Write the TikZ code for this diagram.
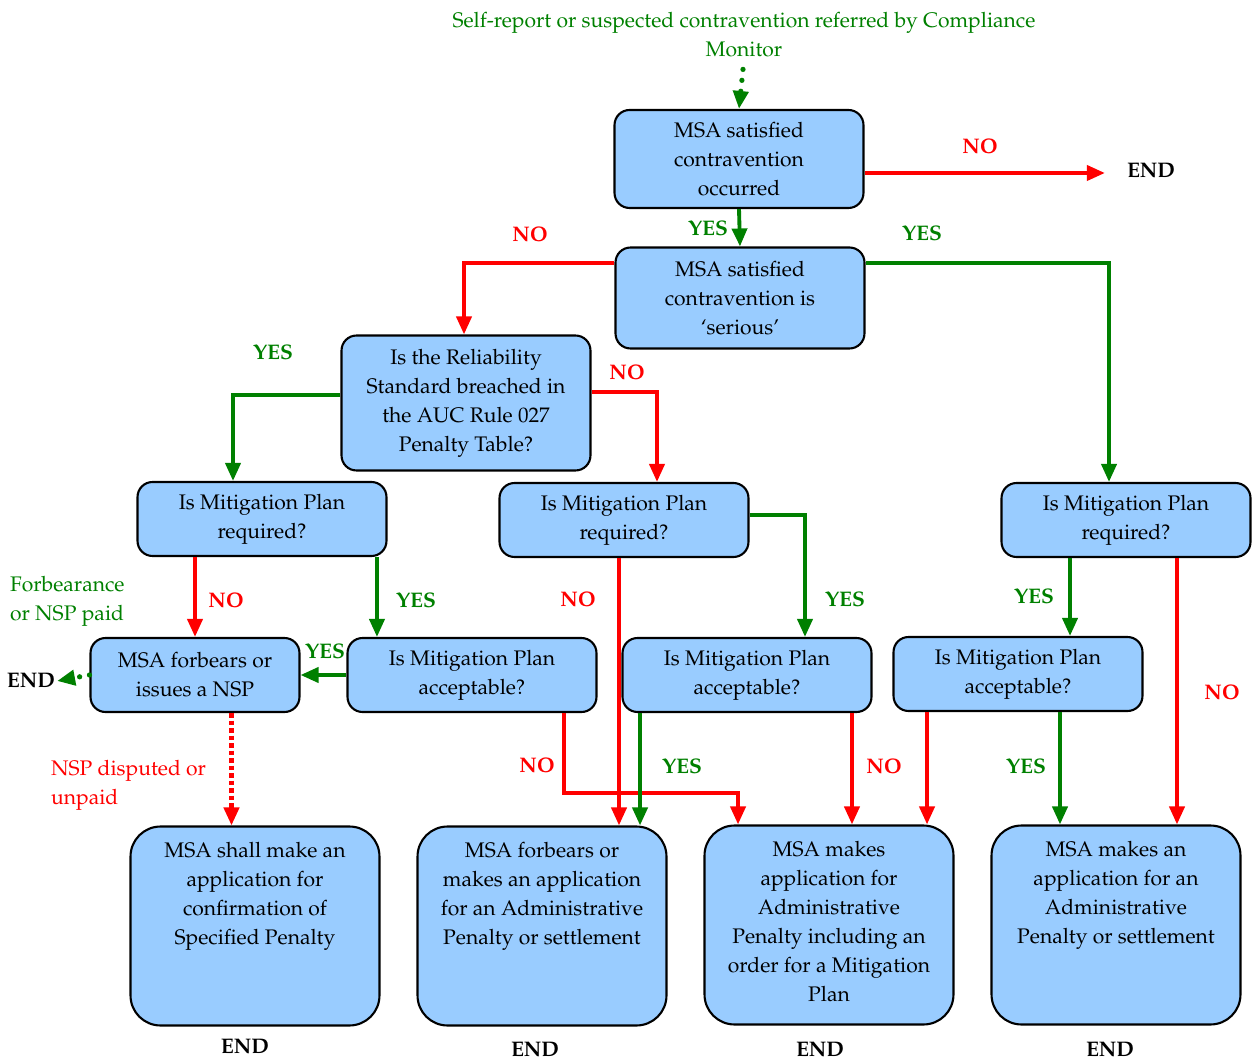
\documentclass[tikz,border=0pt]{standalone}
\usepackage[T1]{fontenc}
\usepackage{mathpazo}
\usepackage{tikz}
\usetikzlibrary{
    arrows.meta,
    positioning
}
\definecolor{flowred}{RGB}{255,0,0}
\definecolor{flowgreen}{RGB}{0,128,0}
\definecolor{boxblue}{RGB}{153,204,255}

\begin{document}
\begin{tikzpicture}[x=0.02cm, y=-0.02cm,
        font=\fontsize{12}{16.5}\selectfont,
        box/.style={draw=black, line width=1.2pt, fill=boxblue, rounded corners=0.3cm,
            minimum width=4.98cm, minimum height=1.48cm, align=center, inner sep=2pt},
        finbox/.style={box, rounded corners=0.6cm, minimum height=3.98cm},
        yes/.style={draw=flowgreen, line width=2.2pt, -{Triangle[length=0.36cm,width=0.3cm]}},
        no/.style={draw=flowred, line width=2.2pt, -{Triangle[length=0.36cm,width=0.3cm]}},
        dots/.style={line width=3pt, line cap=round, dash pattern=on 0pt off 0.22cm},
        yeslbl/.style={text=flowgreen, font=\fontsize{12}{14}\selectfont\bfseries},
        nolbl/.style={text=flowred, font=\fontsize{12}{14}\selectfont\bfseries},
        endlbl/.style={font=\fontsize{12}{14}\selectfont\bfseries, inner sep=1pt},
        note/.style={align=left, inner sep=1pt}]

    \useasboundingbox (0,0) rectangle (1254,1060);

    % source of the procedure
    \node[align=center, text=flowgreen, inner sep=1pt] (src) at (744,35)
        {Self-report or suspected contravention referred by Compliance\\Monitor};

    % decision boxes
    \node[box, minimum height=1.96cm] (occ) at (739,159) {MSA satisfied\\contravention\\occurred};
    \node[box, minimum height=2.02cm] (ser) at (740,298) {MSA satisfied\\contravention is\\`serious'};
    \node[box, minimum height=2.7cm] (rel) at (466,403) {Is the Reliability\\Standard breached in\\the AUC Rule 027\\Penalty Table?};
    \node[box] (req1) at (262,519) {Is Mitigation Plan\\required?};
    \node[box] (req2) at (624,520) {Is Mitigation Plan\\required?};
    \node[box] (req3) at (1126,520) {Is Mitigation Plan\\required?};
    \node[box, minimum width=4.18cm] (nsp) at (195,675) {MSA forbears or\\issues a NSP};
    \node[box] (acc1) at (472,675) {Is Mitigation Plan\\acceptable?};
    \node[box] (acc2) at (747,675) {Is Mitigation Plan\\acceptable?};
    \node[box] (acc3) at (1018,674) {Is Mitigation Plan\\acceptable?};

    % outcomes
    \node[finbox] (fin1) at (255,926) {\parbox[t][3.35cm][t]{4.7cm}{\centering MSA shall make an\\application for\\confirmation of\\Specified Penalty}};
    \node[finbox] (fin2) at (542,926) {\parbox[t][3.35cm][t]{4.7cm}{\centering MSA forbears or\\makes an application\\for an Administrative\\Penalty or settlement}};
    \node[finbox] (fin3) at (829,925) {\parbox[t][3.35cm][t]{4.7cm}{\centering MSA makes\\application for\\Administrative\\Penalty including an\\order for a Mitigation\\Plan}};
    \node[finbox] (fin4) at (1116,925) {\parbox[t][3.35cm][t]{4.7cm}{\centering MSA makes an\\application for an\\Administrative\\Penalty or settlement}};

    % end points
    \node[endlbl] (endtop) at (1151,171) {END};
    \node[endlbl] (endleft) at (31,681) {END};
    \node[endlbl] (end1) at (245,1047) {END};
    \node[endlbl] (end2) at (535,1050) {END};
    \node[endlbl] (end3) at (820,1050) {END};
    \node[endlbl] (end4) at (1110,1050) {END};

    % notes
    \node[note, text=flowgreen, anchor=west] (paid) at (8,601) {Forbearance\\or NSP paid};
    \node[note, text=flowred, anchor=west] (unpaid) at (49,785) {NSP disputed or\\unpaid};

    % connectors
    \draw[yes, dots, shorten <=0.2cm] (src.south) -- (occ.north);
    \draw[no, shorten >=0.4cm] ([yshift=-0.28cm]occ.east) -- ([yshift=-0.28cm]occ.east -| endtop.west);
    \draw[yes] (occ.south) -- (ser.north);
    \draw[no] ([yshift=0.7cm]ser.west) -| ([xshift=-0.04cm]rel.north);
    \draw[yes] ([yshift=0.7cm]ser.east) -| ([xshift=-0.34cm]req3.north);
    \draw[yes] ([yshift=0.16cm]rel.west) -| ([xshift=-0.58cm]req1.north);
    \draw[no] ([yshift=0.22cm]rel.east) -| ([xshift=0.66cm]req2.north);
    \draw[no] (req1.south -| nsp.north) -- (nsp.north);
    \draw[yes] ([xshift=2.3cm]req1.south) -- ([xshift=2.3cm]req1.south |- acc1.north);
    \draw[yes] (acc1.west) -- (nsp.east);
    \draw[yes, dots, dash pattern=on 0pt off 0.2cm] (nsp.west) -- (endleft.east);
    \draw[no, line width=2.4pt, dash pattern=on 0.09cm off 0.06cm] ([xshift=0.73cm]nsp.south) -- ([xshift=0.73cm]nsp.south |- fin1.north);
    \draw[no] ([xshift=-0.1cm]req2.south) -- ([xshift=-0.1cm]req2.south |- fin2.north);
    \draw[yes] ([yshift=0.1cm]req2.east) -| ([xshift=1.16cm]acc2.north);
    \draw[no] ([xshift=1.84cm]acc1.south) -- ++(0,80) -| ([xshift=-1.82cm]fin3.north);
    \draw[yes] ([xshift=-2.14cm]acc2.south) -- ([xshift=-2.14cm]acc2.south |- fin2.north);
    \draw[no] ([xshift=2.1cm]acc2.south) -- ([xshift=2.1cm]acc2.south |- fin3.north);
    \draw[no] ([xshift=-1.82cm]acc3.south) -- ([xshift=-1.82cm]acc3.south |- fin3.north);
    \draw[yes] ([xshift=0.84cm]acc3.south) -- ([xshift=0.84cm]acc3.south |- fin4.north);
    \draw[yes] ([xshift=-1.12cm]req3.south) -- ([xshift=-1.12cm]req3.south |- acc3.north);
    \draw[no] ([xshift=1.02cm]req3.south) -- ([xshift=1.02cm]req3.south |- fin4.north);

    % connector labels
    \node[nolbl] (no1) at (980,146) {NO};
    \node[yeslbl] (yes1) at (708,228) {YES};
    \node[nolbl] (no2) at (530,234) {NO};
    \node[yeslbl] (yes2) at (922,233) {YES};
    \node[yeslbl] (yes3) at (273,352) {YES};
    \node[nolbl] (no3) at (627,372) {NO};
    \node[nolbl] (no4) at (226,600) {NO};
    \node[yeslbl] (yes4) at (416,600) {YES};
    \node[yeslbl] (yes5) at (325,651) {YES};
    \node[nolbl] (no5) at (578,599) {NO};
    \node[yeslbl] (yes6) at (845,599) {YES};
    \node[yeslbl] (yes7) at (1034,596) {YES};
    \node[nolbl] (no6) at (1222,692) {NO};
    \node[nolbl] (no7) at (537,765) {NO};
    \node[yeslbl] (yes8) at (682,766) {YES};
    \node[nolbl] (no8) at (884,766) {NO};
    \node[yeslbl] (yes9) at (1026,766) {YES};
\end{tikzpicture}
\end{document}
